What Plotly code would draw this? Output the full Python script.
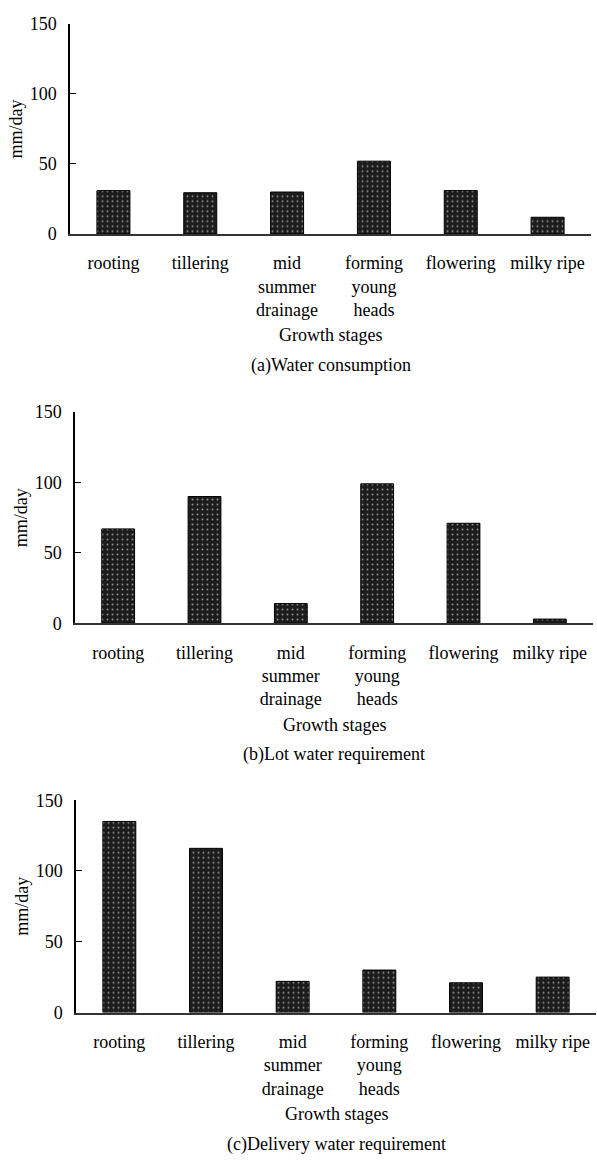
import plotly.graph_objects as go

W, H = 597, 1166

stages = ["rooting", "tillering", "mid<br>summer<br>drainage", "forming<br>young<br>heads", "flowering", "milky ripe"]
water_consumption = [31, 29.5, 30, 52, 31, 12]
lot_water_requirement = [67, 90, 14, 99, 71, 3]
delivery_water_requirement = [135, 116, 22, 30, 21, 25]
y_ticks = [0, 50, 100, 150]
panel_titles = ["(a)Water consumption", "(b)Lot water requirement", "(c)Delivery water requirement"]
x_title = "Growth stages"
y_title = "mm/day"

FONT = "Liberation Serif"

# pixel layouts of the three panels: x0, x1, ytop(150), ybottom(0)
panels = [
    (70, 591, 14, 228),
    (75, 593, 409, 624),
    (76, 596, 804, 1020),
]
series = [water_consumption, lot_water_requirement, delivery_water_requirement]

fig = go.Figure()
layout = dict(
    width=W, height=H,
    margin=dict(l=0, r=0, t=0, b=0),
    paper_bgcolor="white", plot_bgcolor="white",
    showlegend=False,
    font=dict(family=FONT, size=17, color="black"),
    bargap=0.62,
    annotations=[],
)

for i, (vals, (x0, x1, yt, yb)) in enumerate(zip(series, panels)):
    sfx = "" if i == 0 else str(i + 1)
    fig.add_trace(go.Bar(
        x=list(range(len(stages))), y=vals,
        xaxis="x" + sfx, yaxis="y" + sfx,
        marker=dict(
            color="#1c1c1c",
            line=dict(color="black", width=1),
            pattern=dict(shape=".", fgcolor="white", bgcolor="#1c1c1c", size=5, solidity=0.12),
        ),
        hoverinfo="skip",
    ))
    layout["xaxis" + sfx] = dict(
        domain=[x0 / W, x1 / W],
        anchor="y" + sfx,
        range=[-0.5, 5.5],
        tickmode="array", tickvals=list(range(len(stages))), ticktext=stages,
        ticks="", showgrid=False, zeroline=False,
        showline=True, linecolor="#333333", linewidth=1.5,
        tickfont=dict(family=FONT, size=18),
        ticklabelstandoff=12,
        fixedrange=True,
    )
    layout["yaxis" + sfx] = dict(
        domain=[1 - yb / H, 1 - yt / H],
        anchor="x" + sfx,
        range=[0, 150],
        tickmode="array", tickvals=y_ticks,
        ticks="inside", ticklen=6, tickwidth=1.2, tickcolor="black",
        showgrid=False, zeroline=False,
        showline=True, linecolor="black", linewidth=1.5,
        tickfont=dict(family=FONT, size=18),
        ticklabelstandoff=8,
        title=dict(text=y_title, font=dict(family=FONT, size=18), standoff=2),
        fixedrange=True,
    )
    xc = (x0 + x1) / 2 / W
    layout["annotations"].append(dict(
        text=x_title, x=xc, y=1 - (yb + 103) / H, xref="paper", yref="paper",
        showarrow=False, font=dict(family=FONT, size=18), xanchor="center", yanchor="middle",
    ))
    layout["annotations"].append(dict(
        text=panel_titles[i], x=xc, y=1 - (yb + 134) / H, xref="paper", yref="paper",
        showarrow=False, font=dict(family=FONT, size=18), xanchor="center", yanchor="middle",
    ))

fig.update_layout(**layout)
fig.write_html("out.html", config={"displayModeBar": False},
               post_script="document.body.style.margin='0';document.body.style.overflow='hidden';")
